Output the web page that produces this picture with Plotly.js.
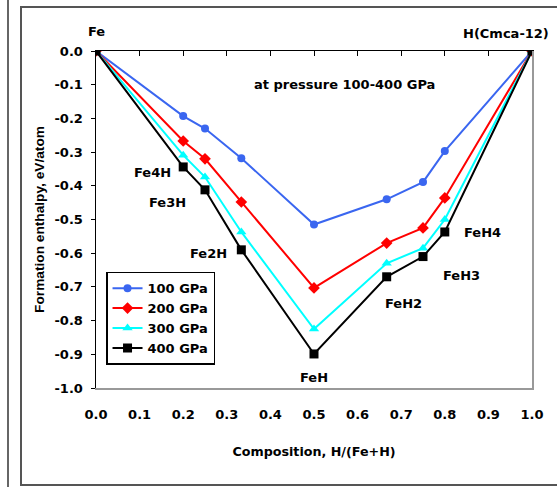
<!DOCTYPE html>
<html><head><meta charset="utf-8">
<script src="https://cdn.plot.ly/plotly-3.0.1.min.js"></script>
<style>html,body{margin:0;padding:0;background:#fff}#c{width:557px;height:487px}</style>
</head><body><div id="c"></div>
<script>
const composition = [0, 0.2, 0.25, 0.3333, 0.5, 0.6667, 0.75, 0.8, 1.0];
const gpa100 = [0, -0.193, -0.23, -0.318, -0.515, -0.44, -0.389, -0.297, 0];
const gpa200 = [0, -0.267, -0.32, -0.448, -0.703, -0.57, -0.525, -0.436, 0];
const gpa300 = [0, -0.309, -0.374, -0.537, -0.825, -0.63, -0.585, -0.50, 0];
const gpa400 = [0, -0.344, -0.412, -0.59, -0.899, -0.67, -0.61, -0.537, 0];
const seriesNames = ['100 GPa', '200 GPa', '300 GPa', '400 GPa'];
const xTickVals = [0, 0.1, 0.2, 0.3, 0.4, 0.5, 0.6, 0.7, 0.8, 0.9, 1.0];
const xTickLabels = ['0.0','0.1','0.2','0.3','0.4','0.5','0.6','0.7','0.8','0.9','1.0'];
const yTickVals = [0, -0.1, -0.2, -0.3, -0.4, -0.5, -0.6, -0.7, -0.8, -0.9, -1.0];
const yTickLabels = ['0.0','-0.1','-0.2','-0.3','-0.4','-0.5','-0.6','-0.7','-0.8','-0.9','-1.0'];
const phaseLabels = ['Fe4H','Fe3H','Fe2H','FeH','FeH2','FeH3','FeH4'];
const endLabels = ['Fe', 'H(Cmca-12)'];

const F = 'DejaVu Sans, sans-serif';
const fnt = (s)=>({family:F, size:s, color:'#000', weight:'bold'});
const styles = [
  {color:'#3a66f0', symbol:'circle', size:8},
  {color:'#ff0000', symbol:'diamond', size:9},
  {color:'#00ffff', symbol:'triangle-up', size:9},
  {color:'#000000', symbol:'square', size:9}
];
const ys = [gpa100, gpa200, gpa300, gpa400];
const traces = ys.map((y,i)=>({
  x: composition, y: y, name: seriesNames[i], type:'scatter', mode:'lines+markers',
  line:{color:styles[i].color, width:2},
  marker:{color:styles[i].color, symbol:styles[i].symbol, size:styles[i].size}
}));
traces.push({x:[0,1], y:[0,0], xaxis:'x2', yaxis:'y', mode:'lines', line:{width:0}, showlegend:false, hoverinfo:'skip'});
traces.push({x:[0,1], y:[0,-1], xaxis:'x', yaxis:'y2', mode:'lines', line:{width:0}, showlegend:false, hoverinfo:'skip'});

const ann = (text,x,y,extra)=>Object.assign({text:text, x:x, y:y, xref:'x', yref:'y', showarrow:false,
  font:fnt(13)}, extra||{});
const annotations = [
  {text:endLabels[0], x:0, y:(388-32)/337, xref:'paper', yref:'paper', yanchor:'middle', xanchor:'center', showarrow:false, font:fnt(13)},
  {text:endLabels[1], x:(506-96)/436, y:(388-34)/337, xref:'paper', yref:'paper', yanchor:'middle', xanchor:'center', showarrow:false, font:fnt(13)},
  ann('at pressure 100-400 GPa', 0.57, -0.1),
  ann(phaseLabels[0], 0.13, -0.36),
  ann(phaseLabels[1], 0.165, -0.45),
  ann(phaseLabels[2], 0.258, -0.60),
  ann(phaseLabels[3], 0.5, -0.97),
  ann(phaseLabels[4], 0.705, -0.748),
  ann(phaseLabels[5], 0.838, -0.665),
  ann(phaseLabels[6], 0.886, -0.54)
];

const layout = {
  width:557, height:487,
  margin:{l:96, r:25, t:51, b:99},
  paper_bgcolor:'#fff', plot_bgcolor:'#fff',
  font:fnt(13),
  showlegend:true,
  legend:{x:0.023, y:0.345, xanchor:'left', yanchor:'top', bgcolor:'#fff', bordercolor:'#000', borderwidth:1.5,
    font:fnt(13), tracegroupgap:0},
  xaxis:{range:[0,1], tickvals:xTickVals, ticktext:xTickLabels, ticks:'', showgrid:false, zeroline:false,
    showline:true, linecolor:'#999', linewidth:1.5, ticklabelstandoff:14,
    tickfont:fnt(13),
    title:{text:'Composition, H/(Fe+H)', font:fnt(12.7), standoff:26}},
  xaxis2:{range:[0,1], overlaying:'x', side:'top', anchor:'y', tickvals:xTickVals, showticklabels:false,
    ticks:'inside', ticklen:5, tickcolor:'#000', showgrid:false, zeroline:false, showline:true, linecolor:'#000', linewidth:1.5},
  yaxis:{range:[-1,0], tickvals:yTickVals, ticktext:yTickLabels, ticks:'outside', ticklen:4, tickcolor:'#000',
    showgrid:false, zeroline:false, showline:true, linecolor:'#000', linewidth:1.5, ticklabelstandoff:5,
    tickfont:fnt(13),
    title:{text:'Formation enthalpy, eV/atom', font:{family:'Liberation Sans, Arial, sans-serif', size:13.7, color:'#000', weight:'bold'}, standoff:6}},
  yaxis2:{range:[-1,0], overlaying:'y', side:'right', anchor:'x', showticklabels:false, ticks:'',
    showgrid:false, zeroline:false, showline:true, linecolor:'#999', linewidth:1.5},
  annotations: annotations,
  shapes:[
    {type:'rect', xref:'paper', yref:'paper', x0:(21-96)/436, x1:(562-96)/436, y0:(388-485)/337, y1:(388-7)/337,
     line:{color:'#555', width:2}, layer:'below'},
    {type:'line', xref:'paper', yref:'paper', x0:(8-96)/436, x1:(8-96)/436, y0:(388-490)/337, y1:(388+5)/337,
     line:{color:'#666', width:2}, layer:'below'}
  ]
};
Plotly.newPlot('c', traces, layout, {displayModeBar:false, staticPlot:true});
</script></body></html>
